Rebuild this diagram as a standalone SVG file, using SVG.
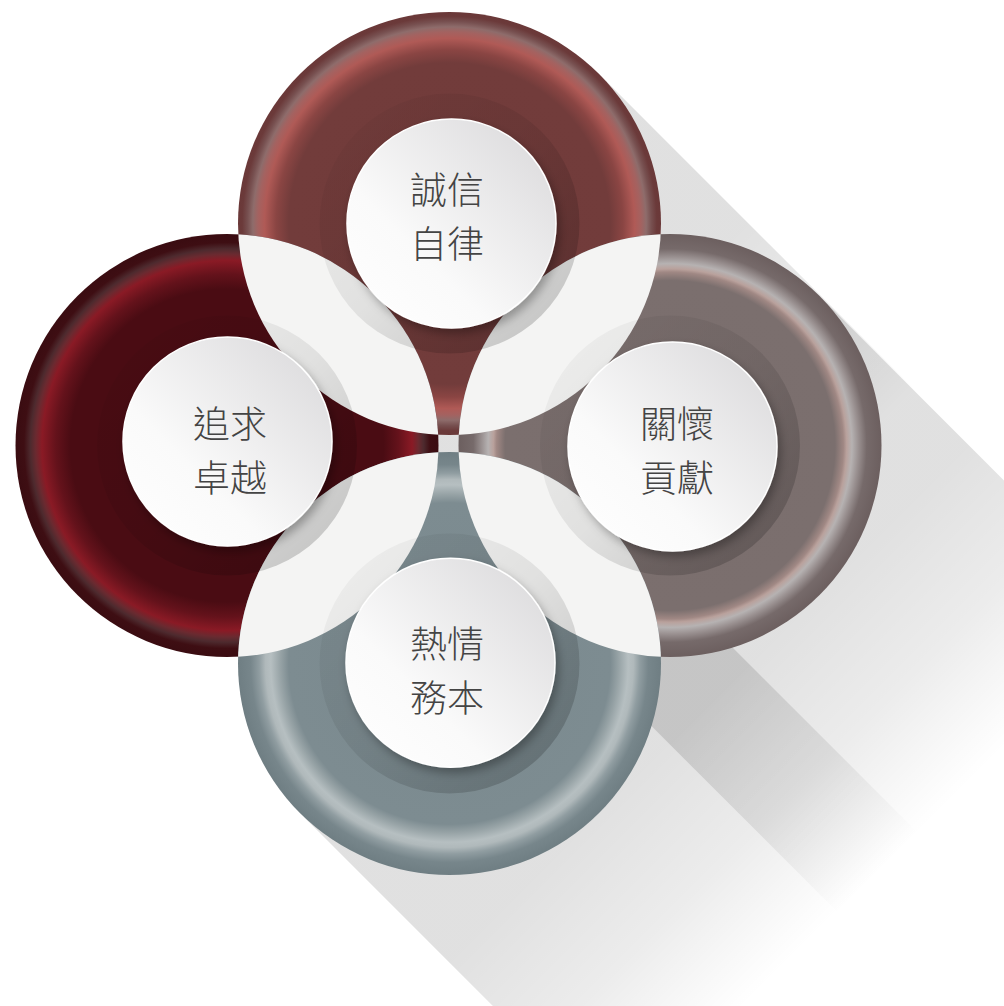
<svg xmlns="http://www.w3.org/2000/svg" width="1004" height="1006" viewBox="0 0 1004 1006">
<defs>
<style>
.lbl{font-family:"Noto Sans CJK TC","Noto Sans CJK SC",sans-serif;font-size:37px;font-weight:300;fill:#444;text-anchor:middle}
.lens{fill:#f4f4f3}
.inner{fill:url(#innerShade)}
.disc{fill:url(#discGrad);stroke:#fff;stroke-width:1.5;filter:url(#ds)}
</style>
<filter id="ds" x="-25%" y="-25%" width="160%" height="160%">
<feDropShadow dx="3" dy="5" stdDeviation="5" flood-color="#000" flood-opacity="0.3"/>
</filter>
<linearGradient id="discGrad" x1="1" y1="0" x2="0" y2="1">
<stop offset="0" stop-color="#d8d7d9"/>
<stop offset="0.65" stop-color="#fafafa"/>
<stop offset="1" stop-color="#ffffff"/>
</linearGradient>
<linearGradient id="innerShade" x1="0" y1="0" x2="1" y2="1">
<stop offset="0" stop-color="#000" stop-opacity="0.02"/>
<stop offset="0.5" stop-color="#000" stop-opacity="0.08"/>
<stop offset="1" stop-color="#000" stop-opacity="0.22"/>
</linearGradient>
<radialGradient id="gT" cx="449.5" cy="223.5" r="211.5" gradientUnits="userSpaceOnUse">
<stop offset="0" stop-color="#713b3a"/>
<stop offset="0.76" stop-color="#723c3b"/>
<stop offset="0.82" stop-color="#8a4543"/>
<stop offset="0.875" stop-color="#b05a56"/>
<stop offset="0.905" stop-color="#a46260"/>
<stop offset="0.93" stop-color="#8e6c6b"/>
<stop offset="0.955" stop-color="#775050"/>
<stop offset="0.98" stop-color="#6b3a3a"/>
<stop offset="1" stop-color="#6a3838"/>
</radialGradient>
<radialGradient id="gL" cx="227" cy="445.5" r="211.5" gradientUnits="userSpaceOnUse">
<stop offset="0" stop-color="#4a0c13"/>
<stop offset="0.74" stop-color="#4a0c13"/>
<stop offset="0.81" stop-color="#64121b"/>
<stop offset="0.875" stop-color="#8a1a25"/>
<stop offset="0.905" stop-color="#6a2a30"/>
<stop offset="0.93" stop-color="#4d2a2e"/>
<stop offset="0.96" stop-color="#3e0e13"/>
<stop offset="1" stop-color="#3a0c11"/>
</radialGradient>
<radialGradient id="gR" cx="670" cy="445.5" r="211.5" gradientUnits="userSpaceOnUse">
<stop offset="0" stop-color="#7a6e6d"/>
<stop offset="0.78" stop-color="#7b6f6e"/>
<stop offset="0.82" stop-color="#a08884"/>
<stop offset="0.835" stop-color="#b9a19c"/>
<stop offset="0.86" stop-color="#b6b2b2"/>
<stop offset="0.89" stop-color="#9b9292"/>
<stop offset="0.93" stop-color="#766a6a"/>
<stop offset="1" stop-color="#6c5f5f"/>
</radialGradient>
<radialGradient id="gB" cx="449.5" cy="663.5" r="211.5" gradientUnits="userSpaceOnUse">
<stop offset="0" stop-color="#7a898e"/>
<stop offset="0.76" stop-color="#7d8c91"/>
<stop offset="0.80" stop-color="#97a3a6"/>
<stop offset="0.845" stop-color="#b6bfc1"/>
<stop offset="0.87" stop-color="#b0b9bb"/>
<stop offset="0.9" stop-color="#909da1"/>
<stop offset="0.94" stop-color="#77868b"/>
<stop offset="1" stop-color="#6f7e83"/>
</radialGradient>
<linearGradient id="sT" gradientUnits="userSpaceOnUse" x1="449.5" y1="223.5" x2="767.7" y2="541.7">
<stop offset="0" stop-color="#000" stop-opacity="0.12"/><stop offset="0.47" stop-color="#000" stop-opacity="0.12"/><stop offset="0.74" stop-color="#000" stop-opacity="0.075"/><stop offset="0.86" stop-color="#000" stop-opacity="0.04"/><stop offset="1" stop-color="#000" stop-opacity="0"/>
</linearGradient>
<linearGradient id="sR" gradientUnits="userSpaceOnUse" x1="670" y1="445.5" x2="988.2" y2="763.7">
<stop offset="0" stop-color="#000" stop-opacity="0.12"/><stop offset="0.47" stop-color="#000" stop-opacity="0.12"/><stop offset="0.74" stop-color="#000" stop-opacity="0.075"/><stop offset="0.86" stop-color="#000" stop-opacity="0.04"/><stop offset="1" stop-color="#000" stop-opacity="0"/>
</linearGradient>
<linearGradient id="sB" gradientUnits="userSpaceOnUse" x1="449.5" y1="663.5" x2="767.7" y2="981.7">
<stop offset="0" stop-color="#000" stop-opacity="0.12"/><stop offset="0.47" stop-color="#000" stop-opacity="0.12"/><stop offset="0.74" stop-color="#000" stop-opacity="0.075"/><stop offset="0.86" stop-color="#000" stop-opacity="0.04"/><stop offset="1" stop-color="#000" stop-opacity="0"/>
</linearGradient>
<clipPath id="cT"><circle cx="449.5" cy="223.5" r="211.5"/></clipPath>
<clipPath id="cB"><circle cx="449.5" cy="663.5" r="211.5"/></clipPath>
</defs>
<rect width="1004" height="1006" fill="#fff"/>
<g id="long-shadow">
<path d="M599.05,73.95 L917.25,392.15 A211.5,211.5 0 0 1 618.15,691.25 L299.95,373.05 A211.5,211.5 0 0 1 599.05,73.95 Z" fill="url(#sT)"/>
<path d="M819.55,295.95 L1137.75,614.15 A211.5,211.5 0 0 1 838.65,913.25 L520.45,595.05 A211.5,211.5 0 0 1 819.55,295.95 Z" fill="url(#sR)"/>
<path d="M599.05,513.95 L917.25,832.15 A211.5,211.5 0 0 1 618.15,1131.25 L299.95,813.05 A211.5,211.5 0 0 1 599.05,513.95 Z" fill="url(#sB)"/>
</g>
<g id="rings">
<circle cx="449.5" cy="223.5" r="211.5" fill="url(#gT)"/>
<circle cx="227" cy="445.5" r="211.5" fill="url(#gL)"/>
<circle cx="670" cy="445.5" r="211.5" fill="url(#gR)"/>
<circle cx="449.5" cy="663.5" r="211.5" fill="url(#gB)"/>
</g>
<g id="lenses">
<circle class="lens" cx="227" cy="445.5" r="211.5" clip-path="url(#cT)"/>
<circle class="lens" cx="670" cy="445.5" r="211.5" clip-path="url(#cT)"/>
<circle class="lens" cx="227" cy="445.5" r="211.5" clip-path="url(#cB)"/>
<circle class="lens" cx="670" cy="445.5" r="211.5" clip-path="url(#cB)"/>
</g>
<g id="node-top">
<circle class="inner" cx="449.5" cy="223.5" r="130"/>
<circle class="disc" cx="451.5" cy="223.5" r="104.5"/>
<text class="lbl"><tspan x="447" y="204">誠信</tspan><tspan x="447" y="258">自律</tspan></text>
</g>
<g id="node-left">
<circle class="inner" cx="227" cy="445.5" r="130"/>
<circle class="disc" cx="227.5" cy="441.5" r="104.5"/>
<text class="lbl"><tspan x="230" y="438">追求</tspan><tspan x="230" y="492">卓越</tspan></text>
</g>
<g id="node-right">
<circle class="inner" cx="670" cy="445.5" r="130"/>
<circle class="disc" cx="672.5" cy="446.5" r="104.5"/>
<text class="lbl"><tspan x="677" y="438">關懷</tspan><tspan x="677" y="492">貢獻</tspan></text>
</g>
<g id="node-bottom">
<circle class="inner" cx="449.5" cy="663.5" r="130"/>
<circle class="disc" cx="450.5" cy="662.7" r="104.5"/>
<text class="lbl"><tspan x="447" y="658">熱情</tspan><tspan x="447" y="712">務本</tspan></text>
</g>
</svg>
